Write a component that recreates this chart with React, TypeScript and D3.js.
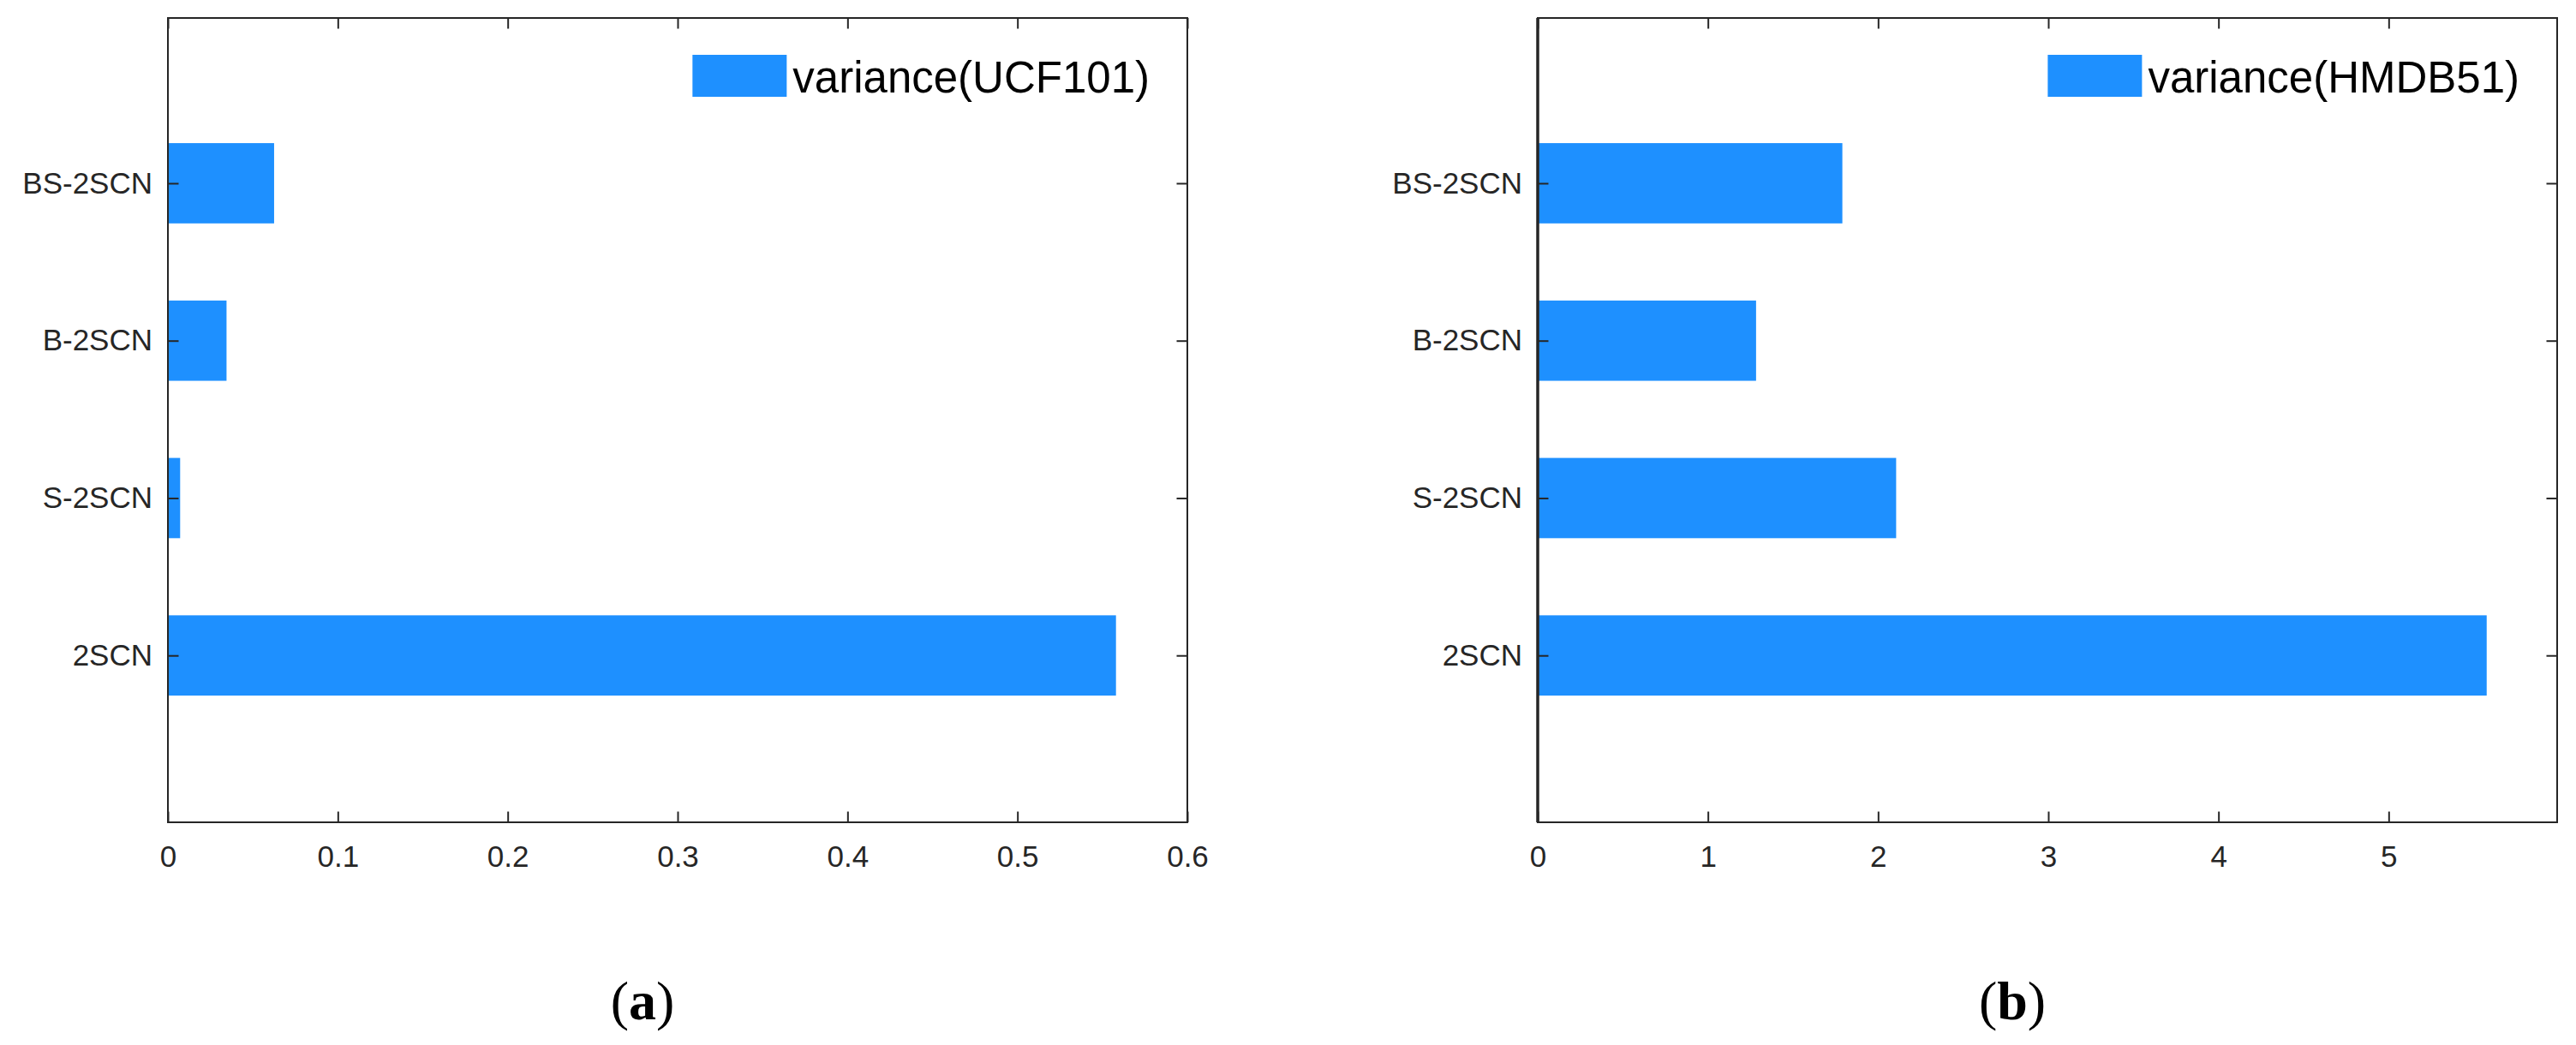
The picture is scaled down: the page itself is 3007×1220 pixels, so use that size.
import React, { useRef, useEffect } from "react";
import * as d3 from "d3";

// categories from bottom to top of each panel
const categories = ["2SCN", "S-2SCN", "B-2SCN", "BS-2SCN"];
const ucfVariance = [0.558, 0.0072, 0.0345, 0.0625];
const hmdbVariance = [5.576, 2.106, 1.283, 1.79];
const ucfTicks = [0, 0.1, 0.2, 0.3, 0.4, 0.5, 0.6];
const hmdbTicks = [0, 1, 2, 3, 4, 5];
const ucfLabel = "variance(UCF101)";
const hmdbLabel = "variance(HMDB51)";

const BLUE = "#1e90ff";
const AX = "#262626";
const FONT = "'Liberation Sans', Arial, Helvetica, sans-serif";

function Panel({ values, ticks, xMax, label, left, caption, thickBase }) {
  const gRef = useRef(null);

  useEffect(() => {
    const g = d3.select(gRef.current);
    g.selectAll("*").remove();

    const width = 1190, top = 21, bottom = 960;
    const x = d3.scaleLinear().domain([0, xMax]).range([left, left + width]);
    const y = d3.scaleLinear().domain([-0.06, 5.05]).range([bottom, top]);
    const idx = categories.map((_, i) => i + 1);
    const barW = 0.51;

    // bars
    g.selectAll("rect.bar")
      .data(values)
      .join("rect")
      .attr("class", "bar")
      .attr("x", x(0))
      .attr("y", (d, i) => y(i + 1 + barW / 2))
      .attr("width", d => x(d) - x(0))
      .attr("height", y(1 - barW / 2) - y(1 + barW / 2))
      .attr("fill", BLUE);

    const styleAxis = sel => {
      sel.select(".domain").remove();
      sel.selectAll(".tick line").attr("stroke", AX).attr("stroke-width", 2);
      sel.selectAll(".tick text")
        .attr("fill", AX)
        .attr("font-size", 35)
        .attr("font-family", FONT);
    };

    const tick = -12.5;
    g.append("g")
      .attr("transform", `translate(0,${bottom})`)
      .call(d3.axisBottom(x).tickValues(ticks).tickSizeInner(tick).tickSizeOuter(0)
        .tickPadding(27).tickFormat(d => String(d)))
      .call(styleAxis);
    g.append("g")
      .attr("transform", `translate(0,${top})`)
      .call(d3.axisTop(x).tickValues(ticks).tickSizeInner(tick).tickSizeOuter(0).tickFormat(() => ""))
      .call(styleAxis);
    g.append("g")
      .attr("transform", `translate(${left},0)`)
      .call(d3.axisLeft(y).tickValues(idx).tickSizeInner(tick).tickSizeOuter(0)
        .tickPadding(18).tickFormat(i => categories[i - 1]))
      .call(styleAxis);
    g.append("g")
      .attr("transform", `translate(${left + width},0)`)
      .call(d3.axisRight(y).tickValues(idx).tickSizeInner(tick).tickSizeOuter(0).tickFormat(() => ""))
      .call(styleAxis);

    // box
    g.append("rect")
      .attr("x", left).attr("y", top)
      .attr("width", width).attr("height", bottom - top)
      .attr("fill", "none").attr("stroke", AX).attr("stroke-width", 2);

    if (thickBase) {
      g.append("line")
        .attr("x1", x(0)).attr("x2", x(0)).attr("y1", top).attr("y2", bottom)
        .attr("stroke", AX).attr("stroke-width", 3.5);
    }

    // legend, text anchored to the top right
    const txt = g.append("text")
      .attr("font-family", FONT).attr("font-size", 51).attr("fill", "#000")
      .attr("y", 108)
      .text(label);
    const tw = txt.node().getComputedTextLength();
    const textX = left + width - 44 - tw;
    txt.attr("x", textX);
    g.append("rect")
      .attr("x", textX - 7 - 110).attr("y", 64)
      .attr("width", 110).attr("height", 49)
      .attr("fill", BLUE);

    // sub caption
    const cap = g.append("text")
      .attr("x", left + 554).attr("y", 1190)
      .attr("text-anchor", "middle")
      .attr("font-family", "'Liberation Serif', 'Times New Roman', serif")
      .attr("font-size", 64).attr("fill", "#000");
    cap.append("tspan").text("(");
    cap.append("tspan").attr("font-weight", "bold").text(caption);
    cap.append("tspan").text(")");
  }, [values, ticks, xMax, label, left, caption, thickBase]);

  return <g ref={gRef} />;
}

export default function App() {
  return (
    <svg width={3007} height={1220} style={{ position: "absolute", left: 0, top: 0, background: "#fff" }}>
      <Panel values={ucfVariance} ticks={ucfTicks} xMax={0.6} label={ucfLabel} left={196} caption="a" thickBase={false} />
      <Panel values={hmdbVariance} ticks={hmdbTicks} xMax={5.99} label={hmdbLabel} left={1795} caption="b" thickBase={true} />
    </svg>
  );
}
